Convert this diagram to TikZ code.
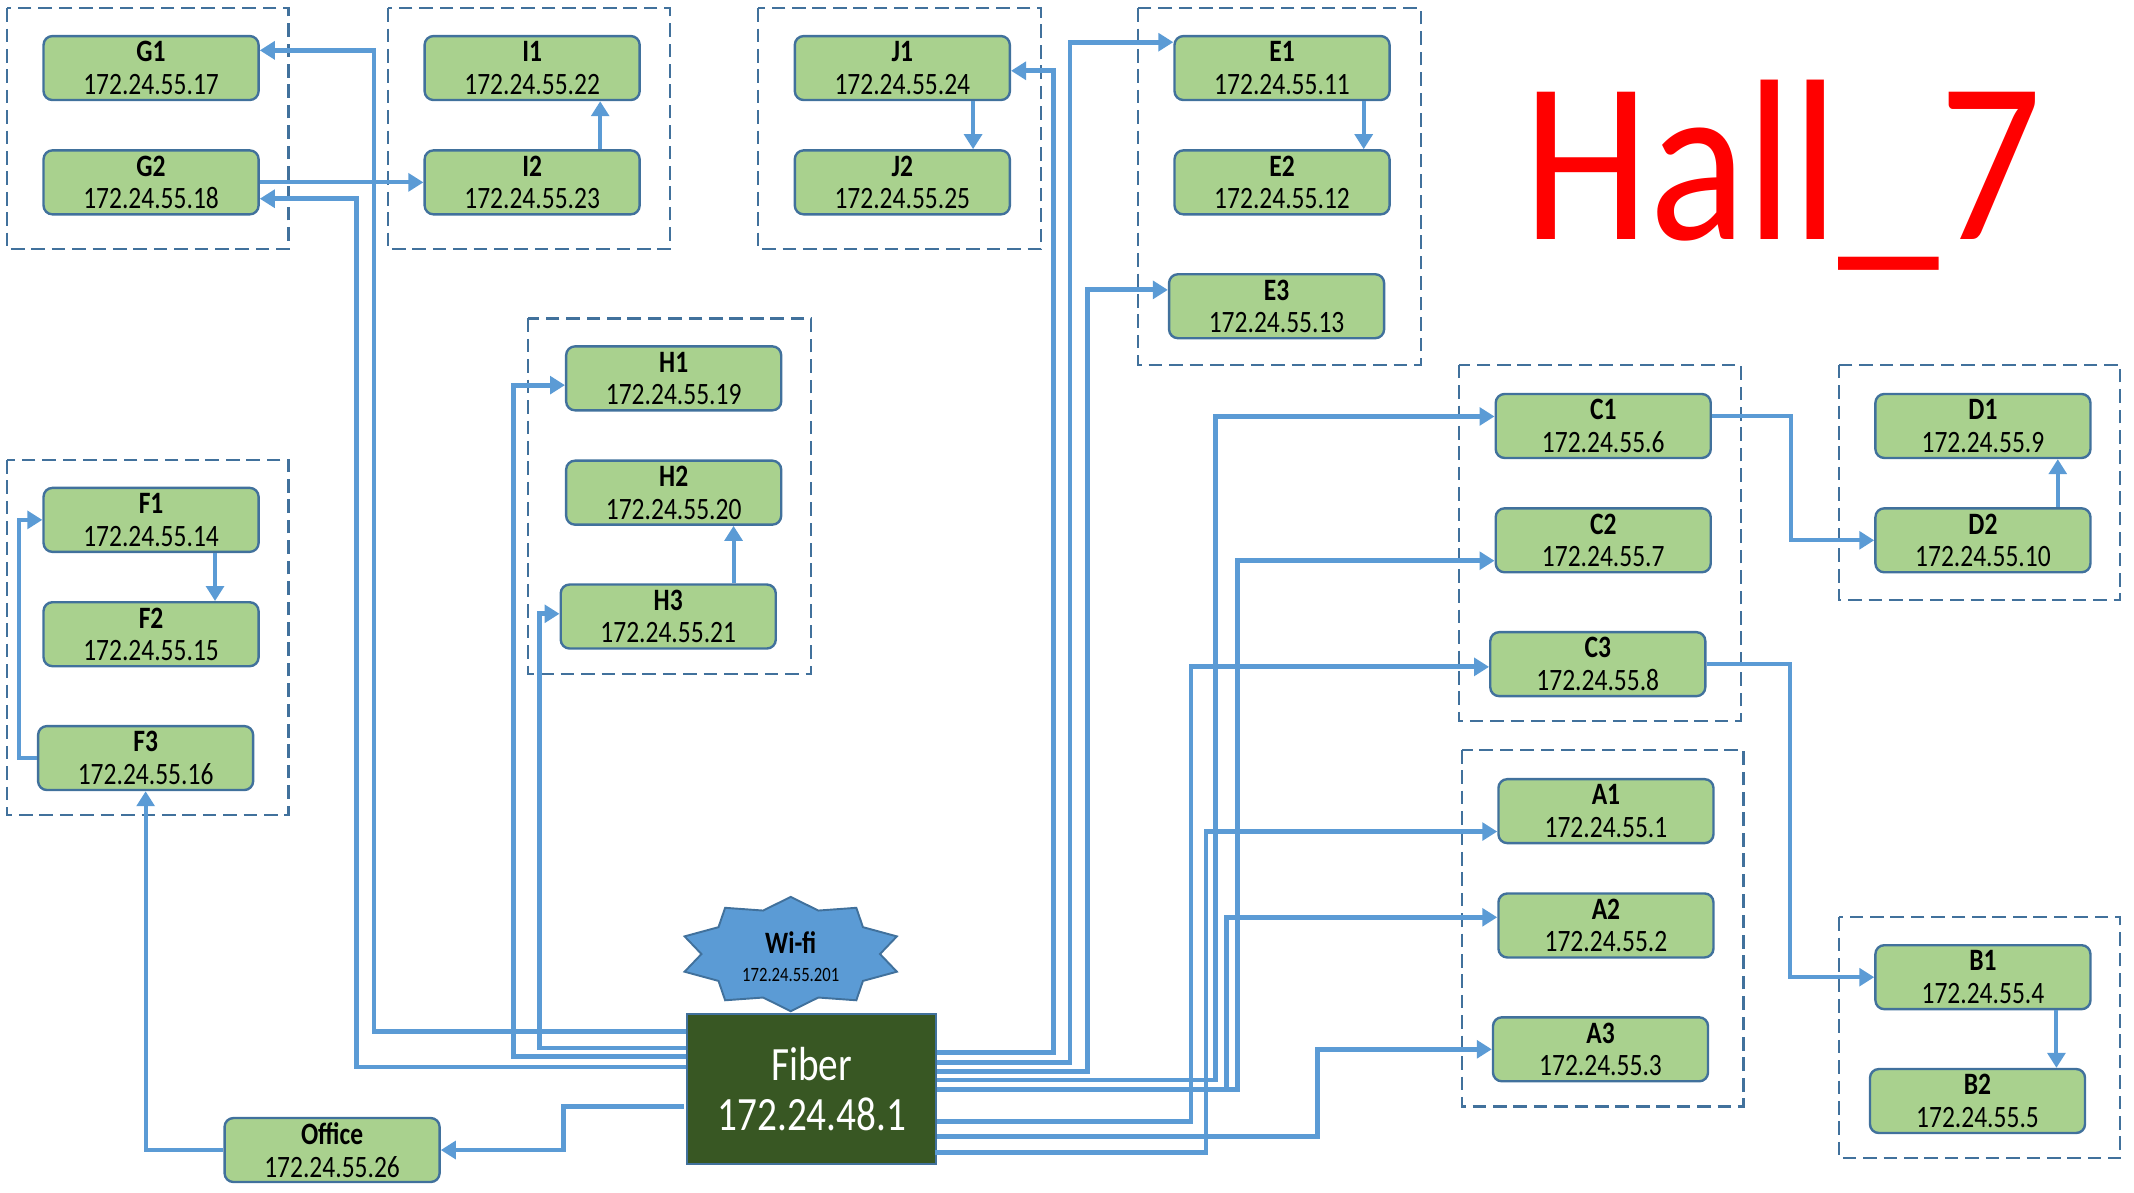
\documentclass[tikz,border=0pt]{standalone}
\usepackage{fontspec}
\setmainfont{Carlito}[FakeStretch=0.82]
\newfontfamily\hallfont{Carlito}[FakeStretch=0.88]
\usetikzlibrary{positioning, arrows.meta, calc}

\definecolor{boxfill}{HTML}{A9D18E}
\definecolor{boxline}{HTML}{41719C}
\definecolor{linkblue}{HTML}{5B9BD5}
\definecolor{fibergreen}{HTML}{385723}
\definecolor{hallred}{HTML}{FF0000}

\tikzset{
  dev/.style={draw=boxline, fill=boxfill, line width=1pt, rounded corners=1.3mm,
    minimum width=31.6mm, minimum height=9.4mm, inner sep=0pt, align=center,
    font=\fontsize{13}{13.6}\selectfont},
  grp/.style={draw=boxline, line width=0.9pt, dash pattern=on 2mm off 1mm},
  link/.style={draw=linkblue, line width=2pt, -{Triangle[length=2.2mm, width=2.6mm]}},
  hop/.style={link, line width=1.7pt},
}

\begin{document}
\begin{tikzpicture}[x=0.2mm, y=-0.2mm]
        \useasboundingbox (0,0) rectangle (1568,876);

        % Dashed groups
        \draw[grp] (5,6) rectangle (212,183);
        \draw[grp] (285,6) rectangle (492,183);
        \draw[grp] (557,6) rectangle (765,183);
        \draw[grp] (836,6) rectangle (1044,268);
        \draw[grp] (388,234) rectangle (596,495);
        \draw[grp] (5,338) rectangle (212,599);
        \draw[grp] (1072,268) rectangle (1279,530);
        \draw[grp] (1351,268) rectangle (1558,441);
        \draw[grp] (1074,551) rectangle (1281,813);
        \draw[grp] (1351,674) rectangle (1558,851);

        % Title
        \node[text=hallred, font=\hallfont\fontsize{96}{96}\selectfont, anchor=base] (hall) at (1310,176) {Hall\_7};

        % Devices
        \node[dev] (G1) at (111,50) {\textbf{G1}\\172.24.55.17};
        \node[dev] (G2) at (111,134) {\textbf{G2}\\172.24.55.18};
        \node[dev] (I1) at (391,50) {\textbf{I1}\\172.24.55.22};
        \node[dev] (I2) at (391,134) {\textbf{I2}\\172.24.55.23};
        \node[dev] (J1) at (663,50) {\textbf{J1}\\172.24.55.24};
        \node[dev] (J2) at (663,134) {\textbf{J2}\\172.24.55.25};
        \node[dev] (E1) at (942,50) {\textbf{E1}\\172.24.55.11};
        \node[dev] (E2) at (942,134) {\textbf{E2}\\172.24.55.12};
        \node[dev] (E3) at (938,225) {\textbf{E3}\\172.24.55.13};
        \node[dev] (H1) at (495,278) {\textbf{H1}\\172.24.55.19};
        \node[dev] (H2) at (495,362) {\textbf{H2}\\172.24.55.20};
        \node[dev] (H3) at (491,453) {\textbf{H3}\\172.24.55.21};
        \node[dev] (F1) at (111,382) {\textbf{F1}\\172.24.55.14};
        \node[dev] (F2) at (111,466) {\textbf{F2}\\172.24.55.15};
        \node[dev] (F3) at (107,557) {\textbf{F3}\\172.24.55.16};
        \node[dev] (C1) at (1178,313) {\textbf{C1}\\172.24.55.6};
        \node[dev] (C2) at (1178,397) {\textbf{C2}\\172.24.55.7};
        \node[dev] (C3) at (1174,488) {\textbf{C3}\\172.24.55.8};
        \node[dev] (D1) at (1457,313) {\textbf{D1}\\172.24.55.9};
        \node[dev] (D2) at (1457,397) {\textbf{D2}\\172.24.55.10};
        \node[dev] (A1) at (1180,596) {\textbf{A1}\\172.24.55.1};
        \node[dev] (A2) at (1180,680) {\textbf{A2}\\172.24.55.2};
        \node[dev] (A3) at (1176,771) {\textbf{A3}\\172.24.55.3};
        \node[dev] (B1) at (1457,718) {\textbf{B1}\\172.24.55.4};
        \node[dev] (B2) at (1453,809) {\textbf{B2}\\172.24.55.5};
        \node[dev] (office) at (244,845) {\textbf{Office}\\172.24.55.26};

        % Fiber and Wi-fi
        \node[draw=boxline, fill=fibergreen, text=white, line width=0.8pt, minimum width=36.6mm,
          minimum height=22mm, align=center, font=\fontsize{20}{21}\selectfont] (fiber) at (596.5,800) {Fiber\\172.24.48.1};
        \draw[fill=linkblue, draw=boxline, line width=0.8pt]
            plot[samples at={0,...,19}, variable=\k]
            ({581+82*(1-0.2*mod(\k,2))*cos(90+18*\k)}, {701-42*(1-0.2*mod(\k,2))*sin(90+18*\k)}) -- cycle;
        \node[align=center, inner sep=0pt] (wifi) at (581,703)
            {{\fontsize{13}{14}\selectfont\textbf{Wi-fi}}\\[0pt]{\fontsize{8.5}{9}\selectfont 172.24.55.201}};

        % Links inside the groups
        \draw[hop] (G2.east) -- (I2.west);
        \draw[hop] ($(I2.north)+(50,0)$) -- ($(I1.south)+(50,0)$);
        \draw[hop] ($(J1.south)+(52,0)$) -- ($(J2.north)+(52,0)$);
        \draw[hop] ($(E1.south)+(60,0)$) -- ($(E2.north)+(60,0)$);
        \draw[hop] ($(H3.north)+(48,0)$) -- ($(H2.south)+(44,0)$);
        \draw[hop] ($(F1.south)+(47,0)$) -- ($(F2.north)+(47,0)$);
        \draw[hop] (F3.west) -- ++(-13,0) |- (F1.west);
        \draw[hop] ($(D2.north)+(55,0)$) -- ($(D1.south)+(55,0)$);
        \draw[hop] ($(B1.south)+(54,0)$) -- ($(B2.north)+(58,0)$);
        \draw[hop] ($(C1.east)+(0,-7)$) -| ($(D2.west)+(-61,0)$) -- (D2.west);
        \draw[hop] (C3.east) -| ($(B1.west)+(-62,0)$) -- (B1.west);
        \draw[hop] (office.west) -| (F3.south);

        % Fiber to the left
        \draw[link] ($(fiber.west)+(0,-42)$) -| ($(G1.east)+(84,-13)$) -- ($(G1.east)+(0,-13)$);
        \draw[link] ($(fiber.west)+(0,-16)$) -| ($(G2.east)+(71,12)$) -- ($(G2.east)+(0,12)$);
        \draw[link] ($(fiber.west)+(0,-30)$) -| ($(H3.west)+(-15,-2)$) -- ($(H3.west)+(0,-2)$);
        \draw[link] ($(fiber.west)+(0,-23.5)$) -| ($(H1.west)+(-38,5)$) -- ($(H1.west)+(0,5)$);
        \draw[link] ($(fiber.west)+(-2,13)$) -| ($(office.east)+(90,0)$) -- (office.east);

        % Fiber to the right
        \draw[link] ($(fiber.east)+(0,-26.5)$) -| ($(J1.east)+(31,2)$) -- ($(J1.east)+(0,2)$);
        \draw[link] ($(fiber.east)+(0,-19.2)$) -| ($(E1.west)+(-76,-19)$) -- ($(E1.west)+(0,-19)$);
        \draw[link] ($(fiber.east)+(0,-12.6)$) -| ($(E3.west)+(-59,-12)$) -- ($(E3.west)+(0,-12)$);
        \draw[link] ($(fiber.east)+(0,-6.5)$) -| ($(C1.west)+(-205,-7)$) -- ($(C1.west)+(0,-7)$);
        \draw[link] ($(fiber.east)+(0,0.3)$) -| ($(C2.west)+(-189,15)$) -- ($(C2.west)+(0,15)$);
        \draw[link] ($(fiber.east)+(0,0.3)$) -| ($(A2.west)+(-199,-6)$) -- ($(A2.west)+(0,-6)$);
        \draw[link] ($(fiber.east)+(0,24)$) -| ($(C3.west)+(-219,2)$) -- ($(C3.west)+(0,2)$);
        \draw[link] ($(fiber.east)+(0,35)$) -| ($(A3.west)+(-128,0)$) -- (A3.west);
        \draw[link] ($(fiber.east)+(-2,47)$) -| ($(A1.west)+(-214,15)$) -- ($(A1.west)+(0,15)$);

\end{tikzpicture}
\end{document}
